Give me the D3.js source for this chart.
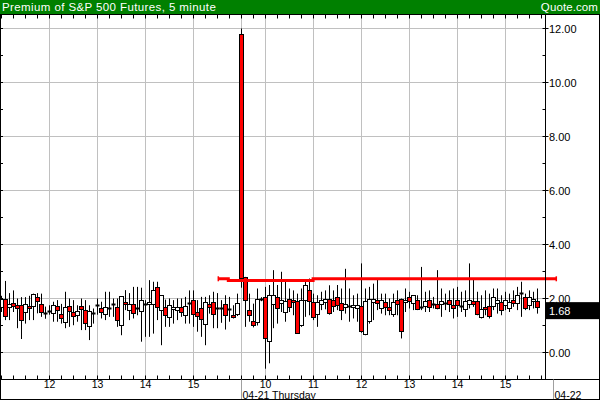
<!DOCTYPE html>
<html><head><meta charset="utf-8">
<script src="https://cdn.jsdelivr.net/npm/d3@7"></script>
<style>html,body{margin:0;padding:0;background:#fff}svg{display:block}text{font-family:"Liberation Sans",Arial,sans-serif}</style>
</head><body>
<script>
// ---- data ----
const title = "Premium of S&P 500 Futures, 5 minute";
const source = "Quote.com";
const day1Label = "04-21 Thursday";
const day2Label = "04-22";
const day1Start = 11 * 60;      // 11:00, first bar of day 1 (minutes)
const day1Bars = 60;
const day2Start = 9 * 60 + 30;  // 9:30, first bar of day 2
const hourLabels1 = [12, 13, 14, 15];
const hourLabels2 = [10, 11, 12, 13, 14, 15];
const yTicks = [0, 2, 4, 6, 8, 10, 12];
const lastValue = 1.68;
const openV = [1.7,2.0,1.7,1.82,1.75,1.75,1.5,1.72,1.72,2.04,1.81,1.45,1.55,1.45,1.73,1.42,1.16,1.72,1.5,1.38,1.72,1.57,0.98,1.45,1.75,1.63,1.44,1.63,1.78,1.67,1.01,1.86,1.57,1.79,1.63,1.54,1.78,1.79,1.81,2.41,1.57,1.67,1.32,1.63,1.57,1.67,1.38,1.85,1.96,1.5,1.63,1.05,1.78,1.86,1.63,1.63,1.79,1.6,1.38,1.42,
 11.8,2.8,1.57,1.16,1.14,1.98,2.04,0.42,1.8,2.04,1.83,1.5,2.0,1.94,1.91,1.01,1.94,2.31,1.88,1.44,1.81,1.88,2.0,1.96,2.04,1.84,1.69,1.73,1.69,1.63,1.72,0.68,1.2,1.9,1.94,1.63,1.86,1.69,1.44,1.94,2.0,1.9,2.04,1.81,1.96,1.67,1.72,1.94,1.81,1.79,1.79,1.79,1.94,1.75,1.94,1.72,1.63,1.81,1.91,1.91,1.3,1.69,1.72,1.72,1.84,1.88,1.75,1.67,1.94,1.81,2.25,2.04,1.75,1.94,1.91];
const highV = [2.1,2.65,2.2,2.3,2.0,2.05,2.05,2.1,2.18,2.2,2.18,1.7,1.75,1.88,1.94,1.8,2.25,2.0,1.94,1.75,2.0,1.94,1.75,1.63,2.0,1.88,2.25,2.25,2.0,2.0,2.09,2.31,2.2,2.43,2.43,2.4,1.94,2.68,2.62,2.62,2.12,1.96,2.0,1.94,2.0,2.0,2.06,2.3,2.3,1.94,2.06,2.06,2.12,2.25,2.2,1.94,2.12,2.06,1.75,2.18,
 12.0,2.8,2.18,1.81,2.37,2.05,2.43,2.5,3.05,2.5,2.99,2.68,2.37,2.3,2.18,2.37,2.68,2.74,2.18,2.12,2.25,2.3,2.49,2.3,2.5,2.37,3.1,2.37,2.12,2.18,3.3,2.37,2.43,2.55,2.74,2.18,2.18,2.0,2.18,2.3,2.0,2.37,2.25,2.12,2.12,3.17,2.25,2.3,2.06,3.05,2.37,2.18,2.3,2.37,2.43,2.25,2.3,3.3,2.74,2.25,2.12,2.3,2.18,2.37,2.37,2.12,2.25,2.18,2.3,2.43,2.62,2.18,2.3,2.25,2.37];
const lowV = [1.5,1.2,1.2,1.5,0.9,0.5,1.07,1.2,1.2,1.45,1.32,1.25,1.4,1.14,1.14,1.07,0.9,0.95,1.01,1.14,0.83,0.83,0.46,1.07,1.4,1.26,1.2,1.32,1.32,0.95,0.64,1.57,1.2,1.26,1.38,0.4,0.58,0.58,0.7,1.2,0.27,0.95,0.95,1.07,1.2,1.32,1.07,1.07,0.95,0.77,0.58,0.27,1.44,0.9,0.9,1.1,0.85,1.14,1.26,1.35,
 2.4,0.95,1.14,0.93,1.0,1.9,-0.6,-0.4,0.9,1.07,1.5,1.14,1.5,1.38,0.7,0.95,1.32,1.38,1.2,0.95,1.57,1.6,1.4,1.5,1.57,1.2,1.44,1.14,1.26,1.14,0.73,0.64,1.07,1.2,1.57,1.44,1.38,1.38,1.32,1.38,0.52,1.5,1.63,1.57,1.57,1.57,1.5,1.5,1.63,1.6,1.32,1.57,1.5,1.26,1.32,1.5,1.32,1.63,1.69,1.38,1.26,1.38,1.26,1.57,1.44,1.38,1.57,1.5,1.69,1.57,1.32,1.57,1.57,1.63,1.44];
const closeV = [2.0,1.38,1.8,1.7,1.63,1.2,1.8,1.63,2.16,1.88,1.5,1.45,1.55,1.75,1.6,1.26,1.7,1.55,1.37,1.54,1.6,1.1,1.54,1.45,1.75,1.49,1.69,1.63,1.78,1.2,2.09,1.79,1.81,1.47,1.63,1.96,1.78,1.86,2.31,1.67,2.12,1.38,1.75,1.7,1.69,1.47,1.72,1.85,1.44,1.35,1.22,1.86,1.67,1.42,1.63,1.63,1.38,1.6,1.32,1.84,
 2.78,1.94,1.38,1.01,2.0,1.98,0.52,2.12,2.12,1.63,1.94,1.91,1.69,1.88,0.73,1.94,2.49,1.91,1.32,1.88,1.96,2.0,1.47,1.75,1.75,1.57,1.81,1.73,1.75,1.75,0.8,1.91,2.0,2.0,1.84,1.94,1.69,1.57,1.88,1.81,0.8,1.96,1.88,2.12,1.63,1.67,1.91,1.69,1.81,1.63,1.91,1.84,1.79,1.63,1.75,1.72,1.91,1.94,1.81,1.44,1.6,1.63,1.35,2.04,1.94,1.57,1.94,1.88,1.84,2.12,2.22,1.63,2.04,2.0,1.68];
// reference (fair value) step line: bar-slot positions and levels
const refSlot = [54.2, 56.7, 77.9, 138.7];
const refLevel = [2.73, 2.67, 2.73, 2.73];

// ---- layout ----
const W = 600, H = 400;
const plotT = 14.5, plotB = 379.5, plotR = 545.5, stripB = 399.5;
const svg = d3.select("body").append("svg").attr("width", W).attr("height", H);
svg.append("rect").attr("width", W).attr("height", H).attr("fill", "#fff");

const x = d3.scaleLinear().domain([0, 1]).range([1.5, 5.5]);
const y = d3.scaleLinear().domain([0, 12]).range([352.5, 28.5]);

const n = openV.length;
const bars = d3.range(n).map(i => ({i, o: openV[i], h: highV[i], l: lowV[i], c: closeV[i]}));
const slotMinutes = k => k < day1Bars ? day1Start + 5 * k : day2Start + 5 * (k - day1Bars);

// header
svg.append("rect").attr("x", 0).attr("y", 0).attr("width", W).attr("height", 14).attr("fill", "#008000");
svg.append("text").attr("x", 2).attr("y", 11).attr("fill", "#fff").attr("font-size", 11.5)
  .attr("letter-spacing", 0.4).text(title);
svg.append("text").attr("x", 598).attr("y", 11).attr("fill", "#fff").attr("font-size", 11.5)
  .attr("letter-spacing", 0.1).attr("text-anchor", "end").text(source);

// horizontal grid
const gridC = "#c0c0c0";
svg.append("g").selectAll("line").data(yTicks).join("line")
  .attr("x1", 0).attr("x2", plotR).attr("y1", d => y(d)).attr("y2", d => y(d))
  .attr("stroke", gridC);

// vertical grid: hours & day separator
const hourSlots = [];
hourLabels1.forEach(h => hourSlots.push({k: (h * 60 - day1Start) / 5, label: h}));
hourLabels2.forEach(h => hourSlots.push({k: day1Bars + (h * 60 - day2Start) / 5, label: h}));
const sepSlots = [day1Bars, day1Bars + (16 * 60 - day2Start) / 5];
svg.append("g").selectAll("line").data(hourSlots.map(d => d.k).concat([sepSlots[0]])).join("line")
  .attr("x1", d => x(d)).attr("x2", d => x(d)).attr("y1", plotT).attr("y2", plotB)
  .attr("stroke", gridC);

// minor ticks every 15 minutes at top & bottom of plot
const qSlots = [];
for (let k = 0; k < sepSlots[1]; k++) { if (slotMinutes(k) % 15 === 0 && x(k) < plotR) qSlots.push(k); }
const tk = svg.append("g").attr("stroke", "#000");
qSlots.forEach(k => {
  tk.append("line").attr("x1", x(k)).attr("x2", x(k)).attr("y1", plotT).attr("y2", plotT + 4);
  tk.append("line").attr("x1", x(k)).attr("x2", x(k)).attr("y1", plotB - 4).attr("y2", plotB);
});
// left edge ticks every unit
d3.range(0, 13).forEach(v => {
  tk.append("line").attr("x1", 0).attr("x2", 3).attr("y1", y(v)).attr("y2", y(v));
});

// candles
const cg = svg.append("g");
cg.selectAll("line.w").data(bars).join("line").attr("class", "w")
  .attr("x1", d => x(d.i)).attr("x2", d => x(d.i)).attr("y1", d => y(d.h)).attr("y2", d => y(d.l))
  .attr("stroke", "#000");
cg.selectAll("rect").data(bars.filter(d => Math.abs(y(d.o) - y(d.c)) >= 1.5)).join("rect")
  .attr("x", d => x(d.i) - 2).attr("width", 4)
  .attr("y", d => Math.round(Math.min(y(d.o), y(d.c))) + 0.5)
  .attr("height", d => Math.max(1, Math.round(Math.abs(y(d.o) - y(d.c)))))
  .attr("fill", d => d.c < d.o ? "#ff0000" : "#fff").attr("stroke", "#000");
cg.selectAll("line.d").data(bars.filter(d => Math.abs(y(d.o) - y(d.c)) < 1.5)).join("line").attr("class", "d")
  .attr("x1", d => x(d.i) - 2).attr("x2", d => x(d.i) + 2)
  .attr("y1", d => Math.round(y(d.c)) + 0.5).attr("y2", d => Math.round(y(d.c)) + 0.5)
  .attr("stroke", "#000").attr("stroke-width", 2);

// reference step line
const refPts = refSlot.map((k, i) => [x(k), y(refLevel[i])]);
svg.append("path").attr("d", d3.line().curve(d3.curveStepAfter)(refPts))
  .attr("fill", "none").attr("stroke", "#ff0000").attr("stroke-width", 3);
[refPts[0], refPts[refPts.length - 1]].forEach(p => {
  svg.append("line").attr("x1", p[0]).attr("x2", p[0]).attr("y1", p[1] - 2.5).attr("y2", p[1] + 2.5)
    .attr("stroke", "#ff0000").attr("stroke-width", 1.5);
});

// right axis
svg.append("line").attr("x1", plotR).attr("x2", plotR).attr("y1", plotT).attr("y2", plotB).attr("stroke", "#000");
d3.range(1, 13, 2).forEach(v => {
  svg.append("line").attr("x1", plotR - 3).attr("x2", plotR).attr("y1", y(v)).attr("y2", y(v)).attr("stroke", "#000");
});
yTicks.forEach(v => {
  svg.append("line").attr("x1", plotR - 3).attr("x2", plotR + 3).attr("y1", y(v)).attr("y2", y(v)).attr("stroke", "#000");
  svg.append("text").attr("x", plotR + 3.5).attr("y", y(v) + 4).attr("font-size", 11).attr("fill", "#000")
    .text(d3.format(".2f")(v));
});
// last value box
svg.append("rect").attr("x", plotR).attr("y", y(lastValue) - 5).attr("width", W - plotR).attr("height", 17).attr("fill", "#000");
svg.append("text").attr("x", plotR + 3.5).attr("y", y(lastValue) + 8).attr("font-size", 11).attr("fill", "#fff")
  .text(d3.format(".2f")(lastValue));

// bottom strip
svg.append("line").attr("x1", 0).attr("x2", W).attr("y1", plotB).attr("y2", plotB).attr("stroke", "#000");
svg.append("g").selectAll("text").data(hourSlots).join("text")
  .attr("x", d => x(d.k)).attr("y", 387.5).attr("text-anchor", "middle").attr("font-size", 10.5).text(d => d.label);
sepSlots.forEach(k => {
  svg.append("line").attr("x1", x(k)).attr("x2", x(k)).attr("y1", plotB).attr("y2", stripB).attr("stroke", "#a0a0a0");
});
svg.append("text").attr("x", x(sepSlots[0]) + 1).attr("y", 398.5).attr("font-size", 10.5).text(day1Label);
svg.append("text").attr("x", x(sepSlots[1]) + 1).attr("y", 398.5).attr("font-size", 10.5).text(day2Label);

// outer frame
svg.append("rect").attr("x", 0.5).attr("y", plotT).attr("width", W - 1).attr("height", stripB - plotT)
  .attr("fill", "none").attr("stroke", "#000");
</script>
</body></html>
